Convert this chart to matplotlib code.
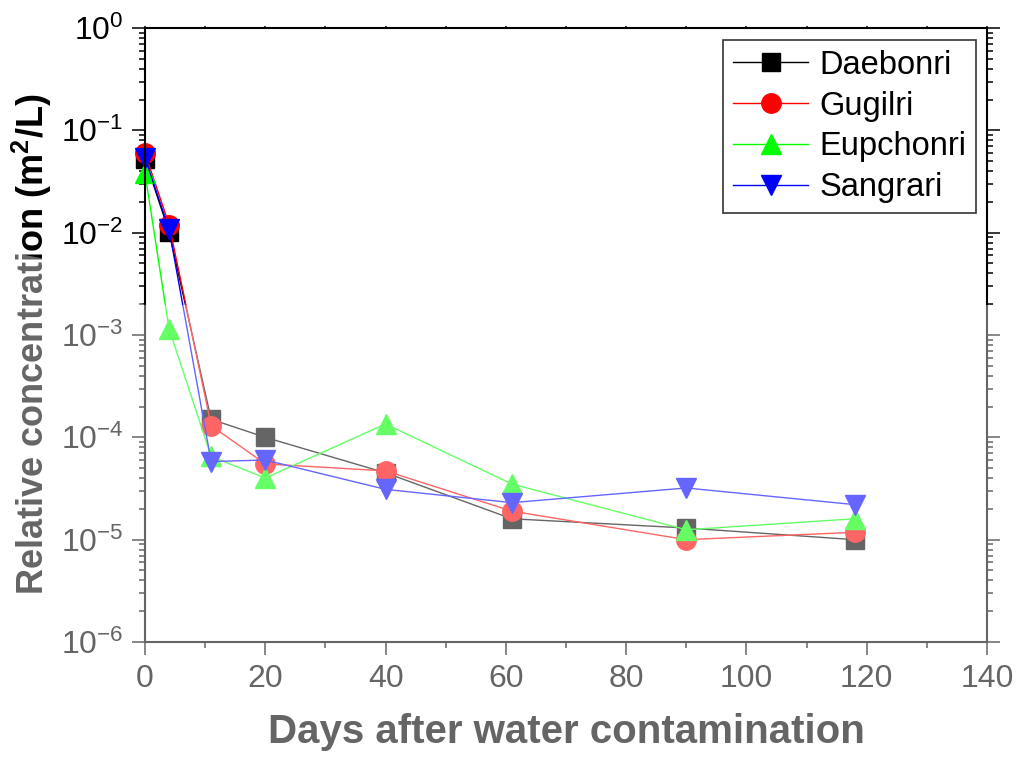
import matplotlib
matplotlib.use("Agg")
import matplotlib.pyplot as plt
import matplotlib.ticker as mticker
from matplotlib.patches import Polygon
import numpy as np

days = [0, 4, 11, 20, 40, 61, 90, 118]
daebonri = [5.2e-2, 1.02e-2, 1.5e-4, 1.0e-4, 4.5e-5, 1.6e-5, 1.3e-5, 1.0e-5]
gugilri = [6.0e-2, 1.2e-2, 1.3e-4, 5.5e-5, 4.7e-5, 1.9e-5, 1.0e-5, 1.18e-5]
eupchonri = [3.8e-2, 1.15e-3, 6.5e-5, 4.0e-5, 1.35e-4, 3.5e-5, 1.25e-5, 1.6e-5]
sangrari = [5.4e-2, 1.08e-2, 5.8e-5, 6.0e-5, 3.1e-5, 2.3e-5, 3.2e-5, 2.2e-5]

series = [
    ("Daebonri", daebonri, "black", "s", 12.5),
    ("Gugilri", gugilri, "red", "o", 14),
    ("Eupchonri", eupchonri, "#00FF00", "^", 15),
    ("Sangrari", sangrari, "blue", "v", 15),
]

plt.rcParams['font.family'] = ['Liberation Sans', 'DejaVu Sans']

W, H = 1018, 764
fig = plt.figure(figsize=(W / 100, H / 100), dpi=100)
ax = fig.add_axes([145 / W, 1 - 642 / H, (987 - 145) / W, (642 - 28) / H])

for name, vals, col, mk, ms in series:
    ax.plot(days, vals, color=col, marker=mk, markersize=ms, linewidth=1.0,
            label=name, clip_on=False)

ax.set_yscale('log')
ax.set_ylim(1e-6, 1)
ax.set_xlim(0, 140)
ax.xaxis.set_major_locator(mticker.MultipleLocator(20))
ax.xaxis.set_minor_locator(mticker.MultipleLocator(10))
ax.yaxis.set_major_locator(mticker.LogLocator(base=10, numticks=10))
ax.yaxis.set_minor_locator(mticker.LogLocator(base=10, subs=np.arange(2, 10), numticks=20))
ax.yaxis.set_minor_formatter(mticker.NullFormatter())

def yfmt(v, pos):
    e = int(round(np.log10(v)))
    return r'$\mathregular{10^{%d}}$' % e
ax.yaxis.set_major_formatter(mticker.FuncFormatter(yfmt))

for s in ax.spines.values():
    s.set_linewidth(1.5)

ax.tick_params(axis='both', which='major', direction='out', length=9.5, width=1.1,
               labelsize=23, pad=6)
ax.tick_params(axis='both', which='minor', direction='out', length=4.5, width=1.1)
ax.tick_params(axis='y', which='both', right=True)
ax.tick_params(axis='x', which='both', top=True, labeltop=False)
for t in ax.xaxis.get_major_ticks() + ax.xaxis.get_minor_ticks():
    t.tick2line.set_markersize(1.5)

ax.set_xlabel("Days after water contamination", fontsize=29, fontweight='bold', labelpad=14)
ax.set_ylabel(r"Relative concentration (m$\mathregular{^2}$/L)", fontsize=26,
              fontweight='bold')
ax.yaxis.set_label_coords(-0.108, 0.485)

leg = ax.legend(loc='upper right', bbox_to_anchor=(976 / W, 1 - 40 / H),
                bbox_transform=fig.transFigure, fontsize=23.5, frameon=True,
                fancybox=False, edgecolor='black', handlelength=2.3,
                borderpad=0.3, labelspacing=0.3, handletextpad=0.34,
                borderaxespad=0)
leg.get_frame().set_linewidth(1.2)

# watermark veil (lightens lower part of the picture as in the reference)
pts = np.array([[0, H], [0, 250], [60, 262], [145, 305], [W, 305], [W, H]], dtype=float)
pts[:, 1] = 1 - pts[:, 1] / H
pts[:, 0] = pts[:, 0] / W
veil = Polygon(pts, closed=True, transform=fig.transFigure, facecolor='white',
               edgecolor='none', alpha=0.4, zorder=100)
fig.add_artist(veil)

fig.savefig("out.png", dpi=100)
